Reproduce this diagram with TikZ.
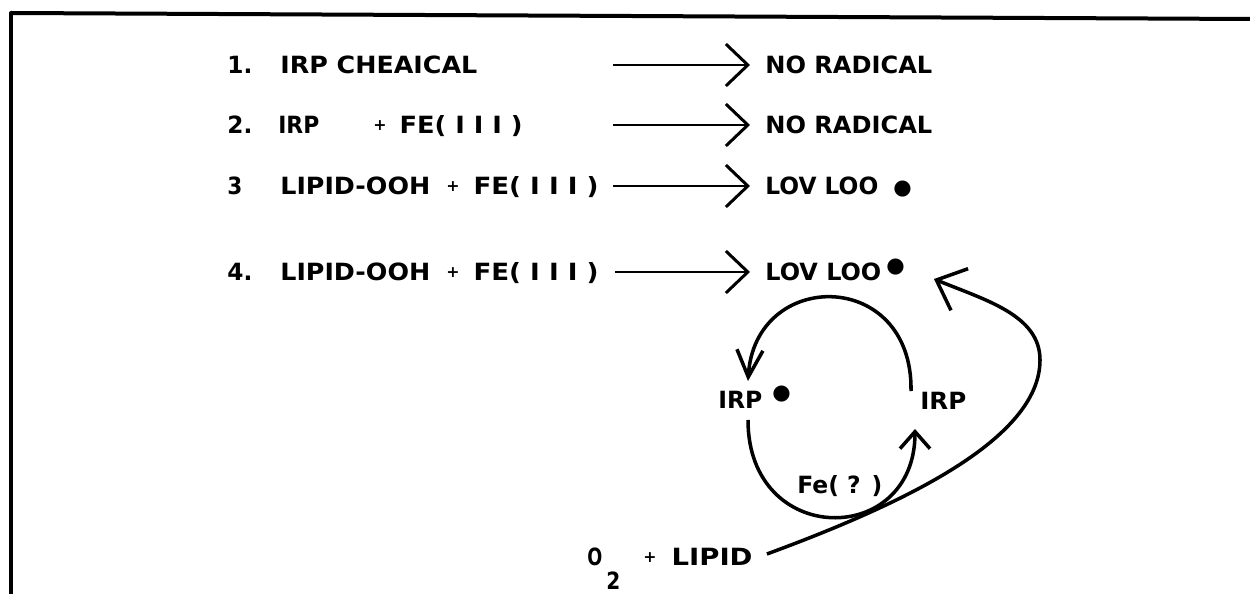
\documentclass[tikz,border=0pt]{standalone}
\usepackage{fontspec}
\usepackage{graphicx}
\setmainfont{DejaVu Sans}
\usetikzlibrary{arrows.meta}
\newcommand{\fw}[2]{\resizebox{#1}{\height}{#2}}
\newcommand{\rdot}{{\fontsize{12}{12}\selectfont ●}}
\newcommand{\pl}{{\fontsize{9}{9}\selectfont\raisebox{0.06cm}{+}}}
\begin{document}
\begin{tikzpicture}[x=0.02cm,y=-0.02cm,
  txt/.style={font=\bfseries\fontsize{13.5}{14}\selectfont, inner sep=0pt, anchor=west, text height=0.35cm, text depth=0pt},
  rtxt/.style={txt, inner xsep=0.3cm},
  frame/.style={line width=0.08cm, line cap=round, line join=round},
  sarr/.style={line width=1.7pt, -{Straight Barb[length=0.44cm,width=0.84cm]}},
  curve/.style={line width=2pt}]
\useasboundingbox (0,0) rectangle (1250,594);
% frame
\draw[frame] (1250,19) -- (11,13) -- (11,594);
% reaction rows
\node[txt] (n1) at (227,65) {\fw{0.5cm}{1.}};
\node[txt] (t1) at (280,65) {\fw{3.94cm}{IRP CHEAICAL}};
\node[txt] (n2) at (227,125) {\fw{0.5cm}{2.}};
\node[txt] (t2) at (278,125) {\fw{0.82cm}{IRP}\hspace{1.08cm}\pl\hspace{0.26cm}\fw{2.46cm}{FE( I I I )}};
\node[txt] (n3) at (227,186) {\fw{0.3cm}{3}};
\node[txt] (t3) at (280,186) {\fw{3cm}{LIPID-OOH}\hspace{0.32cm}\pl\hspace{0.28cm}\fw{2.5cm}{FE( I I I )}};
\node[txt] (n4) at (227,272) {\fw{0.5cm}{4.}};
\node[txt] (t4) at (280,272) {\fw{3cm}{LIPID-OOH}\hspace{0.32cm}\pl\hspace{0.28cm}\fw{2.5cm}{FE( I I I )}};
% products
\node[rtxt] (r1) at (750,65) {\fw{3.34cm}{NO RADICAL}};
\node[rtxt] (r2) at (750,125) {\fw{3.34cm}{NO RADICAL}};
\node[rtxt] (r3) at (750,186) {\fw{2.26cm}{LOV LOO}\hspace{0.3cm}\rdot};
\node[rtxt] (r4) at (750,272) {\fw{2.32cm}{LOV LOO}\hspace{0.1cm}\raisebox{0.16cm}{\rdot}};
% arrows
\coordinate (s1) at (613,65);
\coordinate (s2) at (613,125);
\coordinate (s3) at (613,186);
\coordinate (s4) at (615,272);
\draw[sarr] (s1) -- (r1.west);
\draw[sarr] (s2) -- (r2.west);
\draw[sarr] (s3) -- (r3.west);
\draw[sarr] (s4) -- (r4.west);
% cycle
\node[txt] (irpr) at (718,400) {\fw{0.88cm}{IRP}\hspace{0.2cm}\raisebox{0.18cm}{\rdot}};
\node[txt] (irp) at (920,401) {\fw{0.92cm}{IRP}};
\node[txt] (fe) at (797,485) {\fw{1.7cm}{Fe( ? )}};
\node[txt] (lip) at (587,557) {\fw{0.3cm}{O}\hspace{0.08cm}\raisebox{-0.48cm}{\fw{0.28cm}{2}}\hspace{0.46cm}\pl\hspace{0.3cm}\fw{1.62cm}{LIPID}};
\draw[curve, -{Straight Barb[length=0.54cm,width=0.52cm]}]
  ([shift={(-0.18cm,0.2cm)}]irp.west) .. controls (913,268) and (755,268) .. ([shift={(0.6cm,0.38cm)}]irpr.west);
\draw[curve, -{Straight Barb[length=0.34cm,width=0.6cm]}]
  ([shift={(0.6cm,-0.4cm)}]irpr.west) .. controls (748,548) and (915,548) .. ([shift={(-0.1cm,-0.56cm)}]irp.west);
\draw[curve, -{Straight Barb[length=0.5cm,width=0.9cm]}]
  ([shift={(0.28cm,0.06cm)}]lip.east) .. controls (900,505) and (1040,440) .. (1040,360)
  .. controls (1040,315) and (985,300) .. ([shift={(3.68cm,-0.14cm)}]r4.west);
\end{tikzpicture}
\end{document}
